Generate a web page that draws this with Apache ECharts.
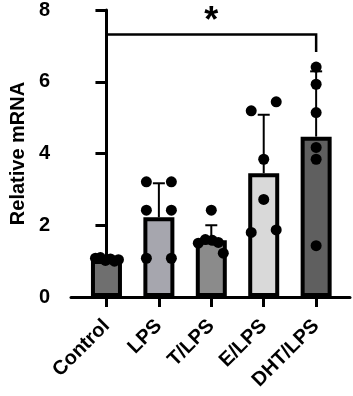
<!DOCTYPE html>
<html>
<head>
<meta charset="utf-8">
<script src="https://cdn.jsdelivr.net/npm/echarts@6/dist/echarts.min.js"></script>
<style>
  html, body { margin: 0; padding: 0; background: #fff; }
  #chart { width: 353px; height: 396px; }
</style>
</head>
<body>
<div id="chart"></div>
<script>
// groups and values
const categories = ['Control', 'LPS', 'T/LPS', 'E/LPS', 'DHT/LPS'];
const means = [1.03, 2.22, 1.58, 3.45, 4.47];
const sds = [0.04, 0.95, 0.42, 1.63, 1.82];
const points = [
  [1.08, 1.10, 1.02, 1.06, 1.00, 1.04],
  [3.21, 3.21, 2.42, 2.42, 1.08, 1.08],
  [2.42, 1.50, 1.60, 1.58, 1.52, 1.22],
  [5.19, 5.44, 3.84, 2.72, 1.80, 1.87],
  [6.41, 5.93, 5.14, 4.17, 3.84, 1.43]
];
const yTicks = [0, 2, 4, 6, 8];
const sigStar = '*';

// styling
const barColors = ['#6f6f6f', '#a6a6ae', '#8b8b8b', '#d9d9d9', '#5f5f5f'];
// horizontal jitter of dots, px
const jitter = [
  [-11, -6, -1, 4, 8, 12],
  [-12.5, 12.5, -12.5, 12.5, -12.5, 12.5],
  [0, -13, -6, 1, 7, 12],
  [-12.5, 12.5, 0, 0, -12.5, 12.5],
  [0, 0, 0, 0, 0, 0]
];
const font = 'Liberation Sans, Arial, sans-serif';

const dotData = [];
points.forEach((arr, i) => arr.forEach((v, k) => dotData.push([i, v, jitter[i][k]])));

const chart = echarts.init(document.getElementById('chart'));

chart.setOption({
  animation: false,
  grid: { left: 61, right: 3, top: 10, bottom: 99 },
  xAxis: {
    type: 'value',
    min: -0.676,
    max: 4.646,
    splitLine: { show: false },
    axisLine: { show: true, lineStyle: { color: '#000', width: 3 } },
    axisTick: { show: true, customValues: [0, 1, 2, 3, 4], length: 10, lineStyle: { color: '#000', width: 3 } },
    axisLabel: {
      customValues: [0, 1, 2, 3, 4],
      formatter: v => categories[Math.round(v)],
      rotate: 45,
      margin: 26,
      color: '#000',
      fontWeight: 'bold',
      fontSize: 20,
      fontFamily: font
    }
  },
  yAxis: {
    type: 'value',
    min: 0,
    max: 8,
    interval: 2,
    name: 'Relative mRNA',
    nameLocation: 'middle',
    nameGap: 40,
    nameTextStyle: { color: '#000', fontWeight: 'bold', fontSize: 20, fontFamily: font },
    splitLine: { show: false },
    axisLine: { show: true, lineStyle: { color: '#000', width: 3 } },
    axisTick: { show: true, length: 11, lineStyle: { color: '#000', width: 3 } },
    axisLabel: {
      margin: 21,
      color: '#000',
      fontWeight: 'bold',
      fontSize: 20,
      fontFamily: font,
      formatter: v => (yTicks.indexOf(v) >= 0 ? String(v) : '')
    }
  },
  series: [
    {
      type: 'bar',
      barWidth: 31,
      data: means.map((m, i) => ({
        value: [i, m],
        itemStyle: { color: barColors[i], borderColor: '#000', borderWidth: 4 }
      })),
      z: 2
    },
    {
      // upward SD error bars
      type: 'custom',
      z: 3,
      data: means.map((m, i) => [i, m, m + sds[i]]),
      renderItem: (params, api) => {
        const base = api.coord([api.value(0), api.value(1)]);
        const top = api.coord([api.value(0), api.value(2)]);
        const st = { stroke: '#000', lineWidth: 2 };
        return {
          type: 'group',
          children: [
            { type: 'line', shape: { x1: base[0], y1: base[1], x2: top[0], y2: top[1] }, style: st },
            { type: 'line', shape: { x1: top[0] - 6, y1: top[1], x2: top[0] + 6, y2: top[1] }, style: st }
          ]
        };
      }
    },
    {
      // individual replicates
      type: 'custom',
      z: 4,
      data: dotData,
      renderItem: (params, api) => {
        const p = api.coord([api.value(0), api.value(1)]);
        return {
          type: 'circle',
          shape: { cx: p[0] + api.value(2), cy: p[1], r: 5.5 },
          style: { fill: '#000' }
        };
      }
    },
    {
      // significance bracket Control vs DHT/LPS
      type: 'custom',
      z: 5,
      data: [[0, 4, 1.45, 7.32, 6.83]],
      renderItem: (params, api) => {
        const a = api.coord([api.value(0), api.value(2)]);
        const b = api.coord([api.value(0), api.value(3)]);
        const c = api.coord([api.value(1), api.value(3)]);
        const d = api.coord([api.value(1), api.value(4)]);
        return {
          type: 'group',
          children: [
            {
              type: 'polyline',
              shape: { points: [a, b, c, d] },
              style: { stroke: '#000', lineWidth: 2.5, fill: null }
            },
            {
              type: 'text',
              x: (b[0] + c[0]) / 2,
              y: b[1] - 12,
              style: {
                text: sigStar,
                fill: '#000',
                font: 'bold 36px ' + font,
                align: 'center',
                verticalAlign: 'middle'
              }
            }
          ]
        };
      }
    }
  ]
});
</script>
</body>
</html>
